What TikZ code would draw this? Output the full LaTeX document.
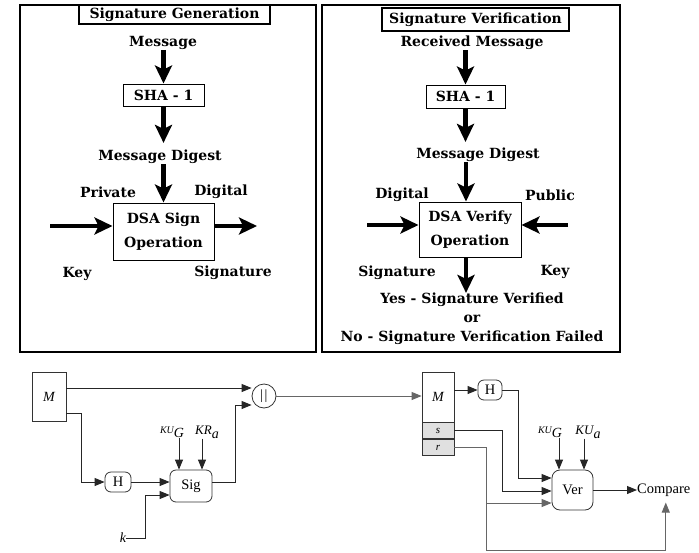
\documentclass[tikz,border=0pt]{standalone}
\usepackage{fontspec}
\setmainfont{Liberation Serif}
\newfontfamily\panelfont{DejaVu Serif}
\usepackage{tikz}
\usetikzlibrary{positioning,arrows.meta,calc}

\begin{document}
\begin{tikzpicture}[x=1pt,y=-1pt,
  panel/.style={draw, line width=1.8pt},
  ptitle/.style={rectangle, draw, line width=1.4pt, inner sep=0pt, font=\panelfont\bfseries\fontsize{14}{16}\selectfont},
  plabel/.style={inner sep=0pt, font=\panelfont\bfseries\fontsize{14}{16}\selectfont},
  pbox/.style={rectangle, draw, line width=1pt, align=center, inner sep=0pt, font=\panelfont\bfseries\fontsize{14}{24}\selectfont},
  bigarrow/.style={line width=4.5pt, -{Stealth[length=18pt,width=17pt,inset=4pt]}},
  blk/.style={rectangle, draw=black!80, line width=0.8pt, inner sep=0pt, font=\fontsize{14.5}{16}\selectfont},
  rblk/.style={blk, rounded corners=6pt},
  wire/.style={draw=black!85, line width=0.9pt},
  arr/.style={wire, -{Triangle[length=10pt,width=8pt]}},
  lbl/.style={inner sep=0pt, font=\itshape\fontsize{14}{16}\selectfont}]

  \useasboundingbox (0,0) rectangle (699,552);

  \draw[panel] (20,5) rectangle (316,352);
  \draw[panel] (322,5) rectangle (620,352);

  % signature generation
  \node[ptitle, minimum width=191pt, minimum height=19pt] (gentitle) at (174.5,14.5) {Signature Generation};
  \node[plabel] (msg) at (163,43) {Message};
  \node[pbox, minimum width=81pt, minimum height=22pt] (sha1) at (163.5,95) {SHA - 1};
  \node[plabel] (md1) at (160,157) {Message Digest};
  \node[pbox, minimum width=101pt, minimum height=57pt] (dsa1) at (163.5,231.5) {DSA Sign\\Operation};
  \node[plabel] (priv) at (108,192) {Private};
  \node[plabel] (dig1) at (221,192) {Digital};
  \node[plabel] (key1) at (77,274) {Key};
  \node[plabel] (sig1) at (233,273) {Signature};
  \coordinate (keyin) at (50,226);
  \coordinate (sigout) at (257,226);
  \draw[bigarrow] (msg.south -| sha1.north) -- (sha1.north);
  \draw[bigarrow, shorten >=7pt] (sha1.south) -- (sha1.south |- md1.north);
  \draw[bigarrow] (md1.south -| dsa1.north) -- (dsa1.north);
  \draw[bigarrow] (keyin) -- (keyin -| dsa1.west);
  \draw[bigarrow] (dsa1.east |- sigout) -- (sigout);

  % signature verification
  \node[ptitle, minimum width=187pt, minimum height=23pt] (vertitle) at (475.5,19.5) {Signature Verification};
  \node[plabel] (rmsg) at (472,43) {Received Message};
  \node[pbox, minimum width=79pt, minimum height=23pt] (sha2) at (465.5,96.5) {SHA - 1};
  \node[plabel] (md2) at (478,155) {Message Digest};
  \node[pbox, minimum width=102pt, minimum height=55pt] (dsa2) at (470,229.5) {DSA Verify\\Operation};
  \node[plabel] (dig2) at (402,195) {Digital};
  \node[plabel] (pub) at (550,195) {Public};
  \node[plabel] (sig2) at (397,273) {Signature};
  \node[plabel] (key2) at (555,272) {Key};
  \node[plabel, align=center, font=\panelfont\bfseries\fontsize{14}{19}\selectfont] (result) at (472,319) {Yes - Signature Verified\\or\\No - Signature Verification Failed};
  \coordinate (sigin) at (367,225);
  \coordinate (keyin2) at (568,225);
  \draw[bigarrow] (rmsg.south -| sha2.north) -- (sha2.north);
  \draw[bigarrow, shorten >=6pt] (sha2.south) -- (sha2.south |- md2.north);
  \draw[bigarrow] ([xshift=-4pt]md2.south -| dsa2.north) -- ([xshift=-4pt]dsa2.north);
  \draw[bigarrow] (sigin) -- (sigin -| dsa2.west);
  \draw[bigarrow] (keyin2) -- (keyin2 -| dsa2.east);
  \draw[bigarrow] ([xshift=-4pt]dsa2.south) -- ([xshift=-4pt]dsa2.south |- result.north);

  % sender
  \node[blk, minimum width=34pt, minimum height=49pt, font=\itshape\fontsize{14}{16}\selectfont] (msgA) at (49,396.5) {M};
  \node[circle, draw=black!80, line width=0.8pt, minimum size=24pt, inner sep=0pt, font=\fontsize{14}{14}\selectfont] (cat) at (264,396) {|\kern1.5pt|};
  \node[rblk, minimum width=26pt, minimum height=20pt] (hashA) at (118,482) {H};
  \node[rblk, minimum width=42pt, minimum height=32pt] (sign) at (191,486) {Sig};
  \node[lbl] (kin) at (123,538) {k};
  \node[inner sep=0pt, font=\itshape] (kug1) at (172,432) {\fontsize{10}{10}\selectfont KU\fontsize{14}{14}\selectfont\raisebox{-4pt}{G}};
  \node[inner sep=0pt, font=\itshape] (kra) at (207,432) {\fontsize{13}{13}\selectfont KR\fontsize{14}{14}\selectfont\raisebox{-4pt}{a}};
  \coordinate (j1) at (81,482);
  \coordinate (j2) at (145,495);
  \coordinate (j3) at (235,405);
  \draw[arr] ([yshift=8.5pt]msgA.east) -- ([yshift=8.5pt]msgA.east -| cat.west);
  \draw[arr] ([yshift=-16.5pt]msgA.east) -| (j1) -- (hashA.west);
  \draw[arr] (hashA.east) -- (hashA.east -| sign.west);
  \draw[arr] (kin.east) -| (j2) -- (j2 -| sign.west);
  \draw[arr] ([xshift=7pt]kug1.south) -- ([xshift=7pt]kug1.south |- sign.north);
  \draw[arr] ([xshift=-5pt]kra.south) -- ([xshift=-5pt]kra.south |- sign.north);
  \draw[arr] ([yshift=4pt]sign.east) -| (j3) -- (j3 -| cat.west);

  % receiver
  \node[blk, minimum width=32pt, minimum height=50pt, font=\itshape\fontsize{14}{16}\selectfont] (msgB) at (438,397) {M};
  \node[blk, fill=black!12, minimum width=32pt, minimum height=16pt, anchor=north, font=\itshape\fontsize{11}{11}\selectfont] (sB) at (msgB.south) {s};
  \node[blk, fill=black!12, minimum width=32pt, minimum height=16pt, anchor=north, font=\itshape\fontsize{11}{11}\selectfont] (rB) at (sB.south) {r};
  \node[rblk, minimum width=24pt, minimum height=20pt] (hashB) at (490,390) {H};
  \node[rblk, rounded corners=8pt, minimum width=41pt, minimum height=40pt] (ver) at (572.5,490) {Ver};
  \node[inner sep=0pt, anchor=west, font=\fontsize{14.5}{16}\selectfont] (cmp) at (637,490) {Compare};
  \node[inner sep=0pt, font=\itshape] (kug2) at (550,432) {\fontsize{10}{10}\selectfont KU\fontsize{14}{14}\selectfont\raisebox{-4pt}{G}};
  \node[inner sep=0pt, font=\itshape] (kua) at (588,432) {\fontsize{13}{13}\selectfont KU\fontsize{14}{14}\selectfont\raisebox{-4pt}{a}};
  \coordinate (j4) at (518,478);
  \coordinate (j5) at (502,491);
  \coordinate (j6) at (486,503);
  \coordinate (j7) at (486,550);
  \draw[arr, draw=black!60] (cat.east) -- (cat.east -| msgB.west);
  \draw[arr] (msgB.east |- hashB) -- (hashB.west);
  \draw[arr] (hashB.east) -| (j4) -- (j4 -| ver.west);
  \draw[arr] (sB.east) -| (j5) -- (j5 -| ver.west);
  \draw[arr, draw=black!60] (rB.east) -| (j6) -- (j6 -| ver.west);
  \draw[arr, draw=black!60] (j6) -- (j7) -| ([xshift=2pt,yshift=-6pt]cmp.south);
  \draw[arr] ([xshift=9pt]kug2.south) -- ([xshift=9pt]kug2.south |- ver.north);
  \draw[arr] ([xshift=-4pt]kua.south) -- ([xshift=-4pt]kua.south |- ver.north);
  \draw[arr] (ver.east) -- (cmp.west);
\end{tikzpicture}
\end{document}
